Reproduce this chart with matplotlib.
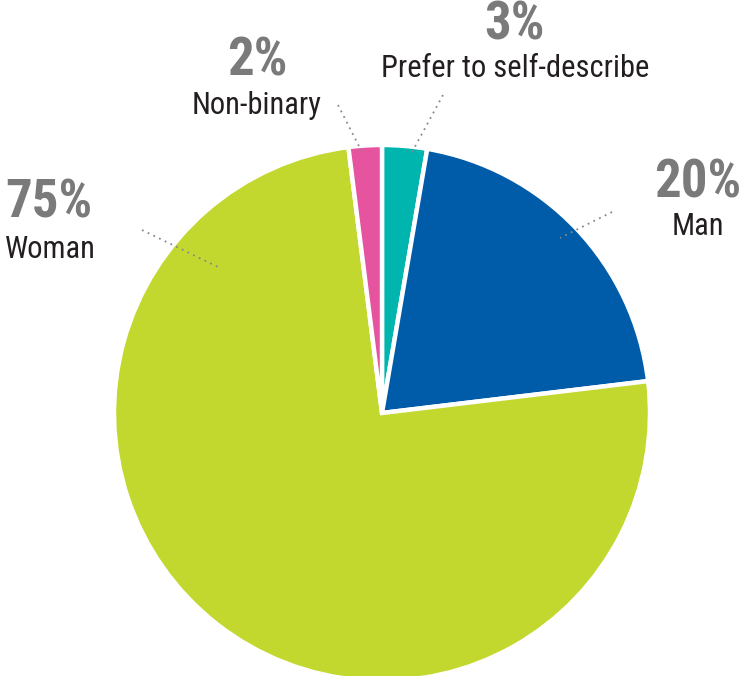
import matplotlib
matplotlib.use("Agg")
import matplotlib.pyplot as plt
from matplotlib import font_manager as fm

# gender split
labels = ["Prefer to self-describe", "Man", "Woman", "Non-binary"]
values = [2.7, 20.4, 74.9, 2.0]
pct_text = ["3%", "20%", "75%", "2%"]
colors = ["#00b5ad", "#005ca9", "#c3d82e", "#e6539f"]


def is_condensed(f):
    st = f.stretch
    if isinstance(st, str):
        if "condensed" in st.lower() or "narrow" in st.lower():
            return True
    elif isinstance(st, (int, float)) and st < 500:
        return True
    n = f.name.lower()
    return "condensed" in n or "narrow" in n


def pick_font():
    # look for a condensed face (regular + bold), the reference uses one
    cands = [f for f in fm.fontManager.ttflist if is_condensed(f)
             and "extra" not in f.fname.lower() and "semi" not in f.fname.lower()
             and "italic" not in f.fname.lower() and f.style == "normal"]
    for pref in ["Roboto Condensed", "Open Sans Condensed", "Noto Sans",
                 "Liberation Sans Narrow", "DejaVu Sans"]:
        reg = [f for f in cands if f.name.startswith(pref) and f.weight in (400, "normal", "regular")]
        bold = [f for f in cands if f.name.startswith(pref) and f.weight in (700, "bold")]
        if reg:
            return reg[0].fname, (bold[0].fname if bold else reg[0].fname), True
    if cands:
        return cands[0].fname, cands[0].fname, True
    return None, None, False


reg_path, bold_path, found = pick_font()

W, H = 743, 676
fig = plt.figure(figsize=(W / 100, H / 100), dpi=100)
ax = fig.add_axes([0, 0, 1, 1])

# pixel coords, y measured from the top of the image
cx, cy, r = 382, 413, 268
ax.pie(values, colors=colors, startangle=90, counterclock=False,
       center=(cx, H - cy), radius=r,
       wedgeprops=dict(edgecolor="white", linewidth=3.2))

ax.set_xlim(0, W)
ax.set_ylim(0, H)
ax.set_aspect("equal")
ax.axis("off")

if found:
    pct_font = fm.FontProperties(fname=bold_path, size=38)
    lab_font = fm.FontProperties(fname=reg_path, size=22)
else:
    pct_font = fm.FontProperties(family="Liberation Sans", weight="bold", size=33)
    lab_font = fm.FontProperties(family="Liberation Sans", size=17)

grey = "#7a7a7b"
dark = "#231f20"

# (x, pct baseline, label baseline, ha, leader start, leader end)
layout = {
    "Woman": (5, 217, 258, "left", (142, 230), (220, 268)),
    "Non-binary": (257, 76, 114, "center", (338, 105), (363, 154)),
    "Prefer to self-describe": (515, 40, 77, "center", (443, 95), (411, 154)),
    "Man": (698, 197, 235, "center", (612, 212), (560, 238)),
}

for lab, pct in zip(labels, pct_text):
    x, py, ly, ha, p0, p1 = layout[lab]
    ax.text(x, H - py, pct, ha=ha, va="baseline", color=grey,
            fontproperties=pct_font)
    ax.text(x, H - ly, lab, ha=ha, va="baseline", color=dark,
            fontproperties=lab_font)
    ax.plot([p0[0], p1[0]], [H - p0[1], H - p1[1]], linestyle=(0, (1, 2.5)),
            color="#888888", linewidth=1.3)

fig.savefig("out.png", dpi=100)
